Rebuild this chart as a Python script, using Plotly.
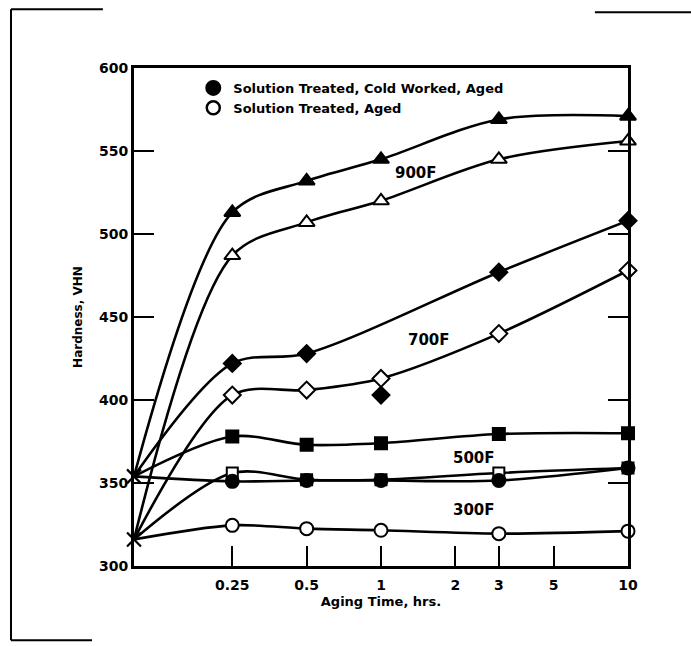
import math
import plotly.graph_objects as go

# ---------------- data ----------------
times = [0.25, 0.5, 1, 3, 10]          # aging time, hrs
start_time = 0.1                       # as-treated condition (plotted at left axis)
start_cw = 354                         # solution treated + cold worked, unaged
start_st = 316                         # solution treated, unaged

cw_900 = [513, 532, 545, 569, 571]
st_900 = [487, 507, 520, 545, 556]
cw_700 = [422, 428, 403, 477, 508]     # 1-hr point lies off the faired curve
cw_700_off_curve = [False, False, True, False, False]
st_700 = [403, 406, 413, 440, 478]
cw_500 = [378, 373, 374, 379.5, 380]
st_500 = [356, 352, 352, 356, 359]
cw_300 = [351, 351.5, 351.5, 351.5, 359]
st_300 = [324.5, 322.5, 321.5, 319.5, 321]

x_tickvals = [0.25, 0.5, 1, 2, 3, 5, 10]
x_ticktext = ["0.25", "0.5", "1", "2", "3", "5", "10"]
y_tickvals = [300, 350, 400, 450, 500, 550, 600]

curve_labels = ["900F", "700F", "500F", "300F"]
curve_label_x = [1.39, 1.57, 2.37, 2.37]
curve_label_y = [537, 436, 365, 334]

legend_names = ["Solution Treated, Cold Worked, Aged", "Solution Treated, Aged"]

# ---------------- figure ----------------
FONT = "DejaVu Sans"
fig = go.Figure()

series = [
    (cw_900, start_cw, "triangle-up", True, 14),
    (st_900, start_st, "triangle-up", False, 14),
    (cw_700, start_cw, "diamond", True, 13),
    (st_700, start_st, "diamond", False, 13),
    (st_500, start_st, "square", False, 11),
    (cw_500, start_cw, "square", True, 12),
    (cw_300, start_cw, "circle", True, 13),
    (st_300, start_st, "circle", False, 13),
]

for vals, start, sym, filled, size in series:
    if vals is cw_700:
        cx = [start_time] + [t for t, off in zip(times, cw_700_off_curve) if not off]
        cy = [start] + [v for v, off in zip(vals, cw_700_off_curve) if not off]
    else:
        cx = [start_time] + times
        cy = [start] + vals
    fig.add_trace(go.Scatter(
        x=cx, y=cy, mode="lines",
        line=dict(color="black", width=2.6, shape="spline", smoothing=0.9),
        showlegend=False, hoverinfo="skip"))

for vals, start, sym, filled, size in series:
    fig.add_trace(go.Scatter(
        x=times, y=vals, mode="markers",
        marker=dict(symbol=sym, size=size, color="black" if filled else "white",
                    line=dict(color="black", width=2)),
        showlegend=False, cliponaxis=False))

fig.add_trace(go.Scatter(
    x=[start_time, start_time], y=[start_cw, start_st], mode="markers",
    marker=dict(symbol="x-thin", size=14, line=dict(color="black", width=2.2)),
    showlegend=False, cliponaxis=False))

fig.add_trace(go.Scatter(
    x=[None], y=[None], mode="markers", name=legend_names[0],
    marker=dict(symbol="circle", size=14, color="black", line=dict(color="black", width=2))))
fig.add_trace(go.Scatter(
    x=[None], y=[None], mode="markers", name=legend_names[1],
    marker=dict(symbol="circle", size=13, color="white", line=dict(color="black", width=2.5))))

for txt, lx, ly in zip(curve_labels, curve_label_x, curve_label_y):
    fig.add_annotation(x=math.log10(lx), y=ly, xref="x", yref="y", text=txt, showarrow=False,
                       font=dict(family=FONT, size=15, color="black", weight="bold"))

# scan frame remnants (paper coords relative to plot area)
frame = [
    (-0.249, -0.149, -0.249, 1.118),
    (-0.249, 1.118, -0.063, 1.118),
    (0.933, 1.112, 1.128, 1.112),
    (-0.249, -0.149, -0.085, -0.149),
]

fig.update_layout(
    width=691, height=646,
    margin=dict(l=134, r=63, t=68, b=80),
    paper_bgcolor="white", plot_bgcolor="white",
    font=dict(family=FONT, color="black", weight="bold"),
    showlegend=True,
    legend=dict(x=0.12, y=0.99, xanchor="left", yanchor="top",
                bgcolor="rgba(0,0,0,0)", borderwidth=0,
                font=dict(family=FONT, size=13, color="black", weight="bold"),
                tracegroupgap=0, itemsizing="trace"),
    xaxis=dict(type="log", range=[-1, 1], tickvals=x_tickvals, ticktext=x_ticktext,
               ticks="inside", ticklen=20, tickwidth=2, tickcolor="black",
               ticklabelstandoff=4,
               showline=True, linewidth=3, linecolor="black", mirror=True,
               showgrid=False, zeroline=False,
               tickfont=dict(family=FONT, size=14, color="black", weight="bold"),
               title=dict(text="Aging Time, hrs.", standoff=6,
                          font=dict(family=FONT, size=13, color="black", weight="bold"))),
    yaxis=dict(range=[300, 600], tickvals=y_tickvals,
               ticks="inside", ticklen=20, tickwidth=2, tickcolor="black",
               showline=True, linewidth=3, linecolor="black", mirror="ticks",
               showgrid=False, zeroline=False,
               tickfont=dict(family=FONT, size=14, color="black", weight="bold"),
               title=dict(text="Hardness, VHN", standoff=14,
                          font=dict(family=FONT, size=12, color="black", weight="bold"))),
    shapes=[dict(type="line", xref="paper", yref="paper",
                 x0=a, y0=b, x1=c, y1=d, line=dict(color="black", width=2))
            for a, b, c, d in frame],
)

fig.write_html("out.html")
